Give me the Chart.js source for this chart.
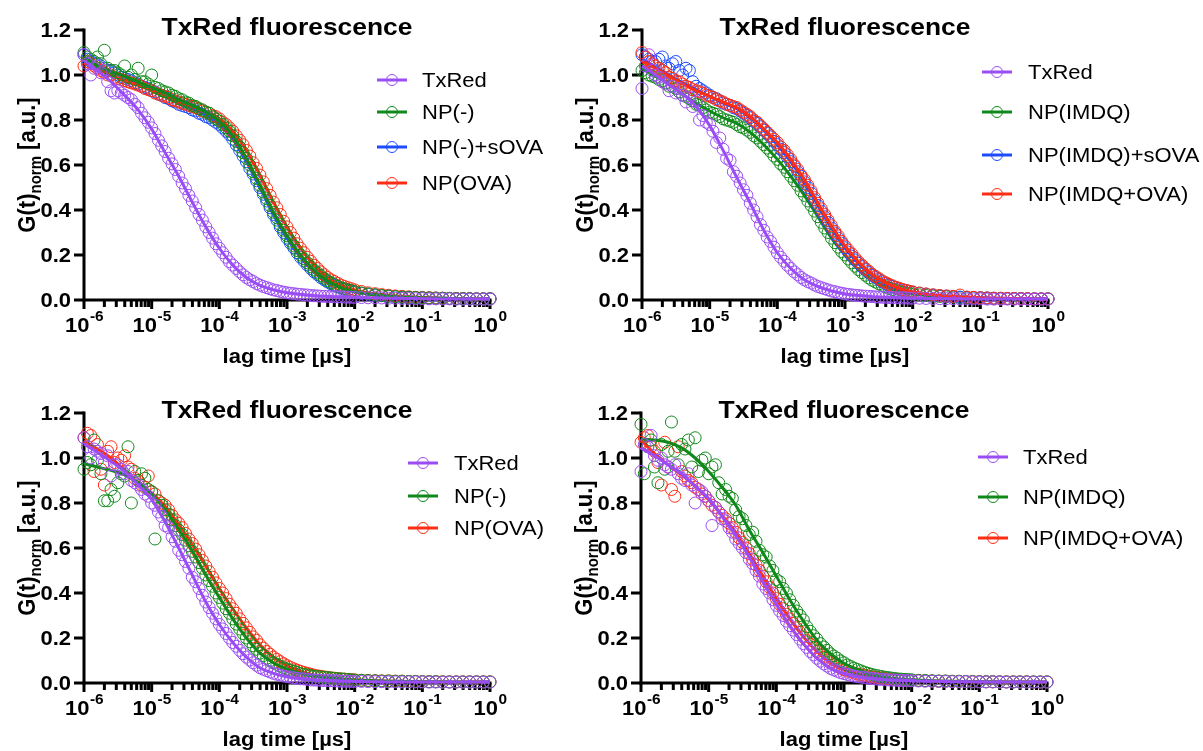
<!DOCTYPE html>
<html>
<head>
<meta charset="utf-8">
<title>TxRed fluorescence</title>
<script src="https://cdn.jsdelivr.net/npm/chart.js@4.4.1/dist/chart.umd.min.js"></script>
<style>
  html, body { margin: 0; padding: 0; background: #fff; overflow: hidden; }
  body { width: 1203px; height: 751px; position: relative; }
  canvas { position: absolute; }
</style>
</head>
<body>
<canvas id="panel1" width="645" height="375" style="left:0px;top:0px"></canvas>
<canvas id="panel2" width="645" height="375" style="left:558px;top:0px"></canvas>
<canvas id="panel3" width="645" height="375" style="left:0px;top:383px"></canvas>
<canvas id="panel4" width="645" height="375" style="left:557px;top:383px"></canvas>
<script>
// lag times of the measured points (20 per decade up to 1e-2, then 10 per decade)
const lagTime = [
  1e-6, 1.12e-6, 1.26e-6, 1.41e-6, 1.58e-6, 1.78e-6, 2e-6, 2.24e-6, 2.51e-6, 2.82e-6,
  3.16e-6, 3.55e-6, 3.98e-6, 4.47e-6, 5.01e-6, 5.62e-6, 6.31e-6, 7.08e-6, 7.94e-6, 8.91e-6,
  1e-5, 1.12e-5, 1.26e-5, 1.41e-5, 1.58e-5, 1.78e-5, 2e-5, 2.24e-5, 2.51e-5, 2.82e-5,
  3.16e-5, 3.55e-5, 3.98e-5, 4.47e-5, 5.01e-5, 5.62e-5, 6.31e-5, 7.08e-5, 7.94e-5, 8.91e-5,
  1e-4, 1.12e-4, 1.26e-4, 1.41e-4, 1.58e-4, 1.78e-4, 2e-4, 2.24e-4, 2.51e-4, 2.82e-4,
  3.16e-4, 3.55e-4, 3.98e-4, 4.47e-4, 5.01e-4, 5.62e-4, 6.31e-4, 7.08e-4, 7.94e-4, 8.91e-4,
  1e-3, 1.12e-3, 1.26e-3, 1.41e-3, 1.58e-3, 1.78e-3, 2e-3, 2.24e-3, 2.51e-3, 2.82e-3,
  3.16e-3, 3.55e-3, 3.98e-3, 4.47e-3, 5.01e-3, 5.62e-3, 6.31e-3, 7.08e-3, 7.94e-3, 8.91e-3,
  1e-2, 1.26e-2, 1.58e-2, 2e-2, 2.51e-2, 3.16e-2, 3.98e-2, 5.01e-2, 6.31e-2, 7.94e-2,
  0.1, 0.126, 0.158, 0.2, 0.251, 0.316, 0.398, 0.501, 0.631, 0.794,
  1
];
// lag times of the fitted curves (5 per decade)
const fitTime = [
  1e-6, 1.58e-6, 2.51e-6, 3.98e-6, 6.31e-6,
  1e-5, 1.58e-5, 2.51e-5, 3.98e-5, 6.31e-5,
  1e-4, 1.58e-4, 2.51e-4, 3.98e-4, 6.31e-4,
  1e-3, 1.58e-3, 2.51e-3, 3.98e-3, 6.31e-3,
  1e-2, 1.58e-2, 2.51e-2, 3.98e-2, 6.31e-2,
  0.1, 0.158, 0.251, 0.398, 0.631,
  1
];

// axis ticks
const yTickValues = [0, 0.2, 0.4, 0.6, 0.8, 1.0, 1.2];
const yTickLabels = ['0.0', '0.2', '0.4', '0.6', '0.8', '1.0', '1.2'];
const xTickValues = [1e-6, 1e-5, 1e-4, 1e-3, 1e-2, 1e-1, 1];
const xTickPowers = ['-6', '-5', '-4', '-3', '-2', '-1', '0'];

const chartTitle = 'TxRed fluorescence';
const xTitle = 'lag time [µs]';
const yTitleParts = ['G(t)', 'norm', ' [a.u.]'];

// ---- top left: TxRed, NP(-), NP(-)+sOVA, NP(OVA)
const p1TxRed = [
  1.09, 1.05, 1.00, 1.03, 1.04, 1.01, 1.02, 0.97, 0.93, 0.92, 0.93, 0.92, 0.91, 0.90, 0.89, 0.87, 0.855, 0.83, 0.81, 0.79,
  0.765, 0.74, 0.71, 0.685, 0.66, 0.63, 0.605, 0.58, 0.55, 0.52, 0.495, 0.465, 0.44, 0.41, 0.38, 0.355, 0.325, 0.30, 0.275, 0.25,
  0.23, 0.21, 0.19, 0.17, 0.155, 0.14, 0.125, 0.112, 0.10, 0.09, 0.082, 0.073, 0.066, 0.06, 0.055, 0.05, 0.045, 0.042, 0.038, 0.035,
  0.032, 0.03, 0.028, 0.026, 0.025, 0.023, 0.022, 0.02, 0.019, 0.018, 0.017, 0.016, 0.016, 0.015, 0.015, 0.014, 0.014, 0.013, 0.013, 0.012,
  0.012, 0.011, 0.010, 0.010, 0.009, 0.008, 0.008, 0.007, 0.007, 0.006, 0.006, 0.005, 0.005, 0.005, 0.005, 0.004, 0.004, 0.004, 0.004, 0.004, 0.004
];
const p1TxRedFit = [1.065, 1.02, 0.97, 0.91, 0.845, 0.76, 0.655, 0.55, 0.435, 0.325, 0.23, 0.155, 0.10, 0.065, 0.045, 0.032, 0.025, 0.019, 0.016, 0.014, 0.012, 0.010, 0.009, 0.008, 0.007, 0.006, 0.005, 0.005, 0.004, 0.004, 0.004];
const p1Np = [
  1.10, 1.08, 1.07, 1.06, 1.08, 1.05, 1.11, 1.03, 1.02, 1.02, 1.01, 1.00, 1.04, 0.99, 1.00, 0.98, 1.03, 0.97, 0.97, 0.96,
  1.00, 0.945, 0.94, 0.93, 0.925, 0.92, 0.91, 0.905, 0.895, 0.89, 0.88, 0.875, 0.865, 0.86, 0.85, 0.845, 0.835, 0.83, 0.815, 0.805,
  0.795, 0.78, 0.765, 0.75, 0.73, 0.705, 0.68, 0.655, 0.63, 0.60, 0.57, 0.54, 0.51, 0.48, 0.45, 0.42, 0.39, 0.365, 0.335, 0.31,
  0.285, 0.262, 0.24, 0.22, 0.20, 0.183, 0.165, 0.148, 0.133, 0.12, 0.108, 0.096, 0.085, 0.077, 0.069, 0.061, 0.054, 0.05, 0.045, 0.041,
  0.037, 0.031, 0.027, 0.023, 0.020, 0.017, 0.015, 0.013, 0.012, 0.011, 0.010, 0.009, 0.008, 0.008, 0.007, 0.006, 0.006, 0.006, 0.005, 0.005, 0.005
];
const p1NpFit = [1.08, 1.04, 1.015, 0.995, 0.97, 0.945, 0.92, 0.89, 0.865, 0.835, 0.795, 0.73, 0.63, 0.51, 0.39, 0.285, 0.2, 0.133, 0.085, 0.054, 0.037, 0.027, 0.02, 0.015, 0.012, 0.01, 0.008, 0.007, 0.006, 0.005, 0.005];
const p1NpSova = [
  1.09, 1.07, 1.06, 1.05, 1.05, 1.04, 1.03, 1.02, 1.02, 1.01, 1.00, 0.99, 0.985, 0.98, 0.975, 0.965, 0.96, 0.95, 0.945, 0.94,
  0.93, 0.925, 0.915, 0.91, 0.90, 0.895, 0.885, 0.88, 0.87, 0.865, 0.86, 0.855, 0.845, 0.84, 0.83, 0.825, 0.815, 0.81, 0.80, 0.79,
  0.78, 0.765, 0.75, 0.735, 0.715, 0.69, 0.665, 0.64, 0.615, 0.585, 0.56, 0.53, 0.50, 0.47, 0.44, 0.41, 0.38, 0.355, 0.325, 0.30,
  0.275, 0.253, 0.232, 0.21, 0.19, 0.173, 0.156, 0.14, 0.125, 0.113, 0.10, 0.09, 0.08, 0.072, 0.065, 0.059, 0.053, 0.048, 0.044, 0.04,
  0.036, 0.030, 0.026, 0.022, 0.019, 0.017, 0.015, 0.013, 0.012, 0.011, 0.010, 0.009, 0.008, 0.007, 0.007, 0.006, 0.006, 0.005, 0.005, 0.005, 0.006
];
const p1NpSovaFit = [1.08, 1.045, 1.015, 0.99, 0.96, 0.935, 0.905, 0.875, 0.85, 0.82, 0.78, 0.715, 0.615, 0.5, 0.38, 0.275, 0.19, 0.125, 0.08, 0.053, 0.036, 0.026, 0.019, 0.015, 0.012, 0.01, 0.008, 0.007, 0.006, 0.005, 0.005];
const p1NpOva = [
  1.04, 1.06, 1.05, 1.04, 1.03, 1.02, 1.01, 1.00, 1.00, 0.99, 0.985, 0.98, 0.975, 0.97, 0.965, 0.96, 0.955, 0.95, 0.94, 0.935,
  0.93, 0.92, 0.915, 0.91, 0.905, 0.90, 0.89, 0.885, 0.88, 0.875, 0.87, 0.865, 0.86, 0.855, 0.85, 0.84, 0.835, 0.83, 0.82, 0.815,
  0.805, 0.79, 0.78, 0.765, 0.75, 0.73, 0.71, 0.69, 0.665, 0.64, 0.61, 0.585, 0.555, 0.525, 0.495, 0.465, 0.435, 0.41, 0.38, 0.35,
  0.325, 0.30, 0.275, 0.25, 0.23, 0.21, 0.19, 0.172, 0.155, 0.14, 0.125, 0.112, 0.10, 0.09, 0.082, 0.074, 0.066, 0.06, 0.055, 0.05,
  0.045, 0.038, 0.032, 0.028, 0.024, 0.021, 0.018, 0.016, 0.014, 0.012, 0.011, 0.010, 0.009, 0.008, 0.007, 0.007, 0.006, 0.006, 0.005, 0.005, 0.005
];
const p1NpOvaFit = [1.055, 1.03, 1.0, 0.975, 0.955, 0.93, 0.905, 0.88, 0.86, 0.835, 0.805, 0.75, 0.665, 0.555, 0.435, 0.325, 0.23, 0.155, 0.1, 0.066, 0.045, 0.032, 0.024, 0.018, 0.014, 0.011, 0.009, 0.007, 0.006, 0.005, 0.005];

// ---- top right: TxRed, NP(IMDQ), NP(IMDQ)+sOVA, NP(IMDQ+OVA)
const p2TxRed = [
  0.94, 1.04, 1.09, 1.02, 1.00, 0.99, 0.97, 0.96, 0.93, 0.95, 0.92, 0.94, 0.91, 0.88, 0.90, 0.86, 0.88, 0.80, 0.82, 0.79,
  0.78, 0.75, 0.70, 0.72, 0.67, 0.63, 0.62, 0.57, 0.55, 0.52, 0.49, 0.465, 0.43, 0.40, 0.37, 0.335, 0.31, 0.28, 0.26, 0.235,
  0.21, 0.19, 0.172, 0.155, 0.14, 0.125, 0.113, 0.10, 0.09, 0.082, 0.075, 0.067, 0.06, 0.055, 0.05, 0.045, 0.04, 0.037, 0.033, 0.03,
  0.027, 0.025, 0.023, 0.021, 0.02, 0.018, 0.017, 0.016, 0.015, 0.014, 0.013, 0.012, 0.012, 0.011, 0.011, 0.010, 0.010, 0.009, 0.009, 0.008,
  0.008, 0.008, 0.007, 0.007, 0.006, 0.006, 0.006, 0.005, 0.005, 0.005, 0.005, 0.004, 0.004, 0.004, 0.004, 0.004, 0.004, 0.004, 0.004, 0.004, 0.004
];
const p2TxRedFit = [1.04, 1.0, 0.955, 0.915, 0.86, 0.775, 0.665, 0.545, 0.43, 0.31, 0.21, 0.14, 0.09, 0.06, 0.04, 0.027, 0.02, 0.015, 0.012, 0.01, 0.008, 0.007, 0.006, 0.006, 0.005, 0.005, 0.004, 0.004, 0.004, 0.004, 0.004];
const p2Np = [
  1.02, 1.01, 1.00, 0.995, 0.99, 0.98, 0.975, 0.965, 0.95, 0.95, 0.94, 0.925, 0.91, 0.905, 0.895, 0.885, 0.87, 0.865, 0.855, 0.845,
  0.835, 0.83, 0.825, 0.815, 0.805, 0.80, 0.795, 0.79, 0.78, 0.77, 0.765, 0.755, 0.745, 0.73, 0.72, 0.705, 0.69, 0.675, 0.66, 0.64,
  0.625, 0.605, 0.59, 0.57, 0.55, 0.53, 0.51, 0.485, 0.465, 0.44, 0.42, 0.395, 0.37, 0.345, 0.32, 0.30, 0.275, 0.255, 0.235, 0.215,
  0.20, 0.182, 0.165, 0.15, 0.135, 0.122, 0.11, 0.098, 0.088, 0.08, 0.072, 0.065, 0.058, 0.052, 0.047, 0.042, 0.038, 0.035, 0.032, 0.029,
  0.027, 0.023, 0.020, 0.018, 0.016, 0.014, 0.013, 0.011, 0.010, 0.010, 0.009, 0.008, 0.007, 0.007, 0.006, 0.006, 0.006, 0.005, 0.005, 0.005, 0.005
];
const p2NpFit = [1.03, 0.995, 0.96, 0.915, 0.875, 0.84, 0.81, 0.785, 0.745, 0.69, 0.625, 0.55, 0.465, 0.37, 0.275, 0.2, 0.135, 0.088, 0.058, 0.038, 0.027, 0.02, 0.016, 0.013, 0.01, 0.009, 0.007, 0.006, 0.006, 0.005, 0.005];
const p2NpSova = [
  1.09, 1.08, 1.07, 1.06, 1.06, 1.07, 1.08, 1.04, 1.03, 1.05, 1.06, 1.02, 1.00, 1.03, 1.02, 0.97, 0.95, 0.94, 0.93, 0.92,
  0.91, 0.90, 0.895, 0.885, 0.875, 0.87, 0.865, 0.855, 0.85, 0.84, 0.83, 0.82, 0.81, 0.795, 0.785, 0.77, 0.755, 0.74, 0.725, 0.705,
  0.69, 0.67, 0.655, 0.635, 0.615, 0.595, 0.57, 0.55, 0.525, 0.50, 0.475, 0.445, 0.42, 0.395, 0.37, 0.345, 0.32, 0.298, 0.275, 0.253,
  0.232, 0.213, 0.195, 0.178, 0.163, 0.148, 0.135, 0.122, 0.11, 0.10, 0.09, 0.081, 0.073, 0.066, 0.06, 0.055, 0.05, 0.045, 0.042, 0.038,
  0.035, 0.030, 0.026, 0.022, 0.019, 0.017, 0.015, 0.013, 0.012, 0.011, 0.010, 0.009, 0.008, 0.007, 0.007, 0.006, 0.006, 0.005, 0.005, 0.005, 0.005
];
const p2NpSovaFit = [1.07, 1.035, 1.0, 0.965, 0.935, 0.905, 0.875, 0.85, 0.81, 0.755, 0.69, 0.615, 0.525, 0.42, 0.32, 0.232, 0.163, 0.11, 0.073, 0.05, 0.035, 0.026, 0.019, 0.015, 0.012, 0.01, 0.008, 0.007, 0.006, 0.005, 0.005];
const p2NpOva = [
  1.10, 1.08, 1.06, 1.05, 1.04, 1.03, 1.02, 1.01, 0.99, 0.985, 0.975, 0.97, 0.96, 0.95, 0.945, 0.935, 0.93, 0.925, 0.92, 0.91,
  0.905, 0.90, 0.89, 0.885, 0.88, 0.87, 0.865, 0.86, 0.855, 0.845, 0.835, 0.825, 0.815, 0.80, 0.79, 0.775, 0.76, 0.745, 0.73, 0.715,
  0.70, 0.68, 0.665, 0.645, 0.625, 0.60, 0.58, 0.555, 0.535, 0.51, 0.485, 0.455, 0.43, 0.405, 0.38, 0.355, 0.33, 0.305, 0.285, 0.26,
  0.24, 0.222, 0.205, 0.187, 0.17, 0.155, 0.14, 0.128, 0.115, 0.105, 0.095, 0.085, 0.077, 0.07, 0.063, 0.057, 0.052, 0.047, 0.043, 0.039,
  0.036, 0.031, 0.027, 0.023, 0.020, 0.018, 0.016, 0.022, 0.013, 0.012, 0.010, 0.009, 0.008, 0.008, 0.007, 0.007, 0.006, 0.006, 0.005, 0.005, 0.005
];
const p2NpOvaFit = [1.06, 1.03, 0.995, 0.96, 0.93, 0.905, 0.88, 0.855, 0.815, 0.76, 0.70, 0.625, 0.535, 0.43, 0.33, 0.24, 0.17, 0.115, 0.077, 0.052, 0.036, 0.027, 0.02, 0.016, 0.013, 0.01, 0.008, 0.007, 0.006, 0.005, 0.005];

// ---- bottom left: TxRed, NP(-), NP(OVA)
const p3TxRed = [
  1.09, 1.05, 1.00, 1.04, 1.03, 1.02, 0.98, 1.01, 0.92, 0.97, 0.97, 0.95, 0.93, 0.94, 0.90, 0.89, 0.88, 0.86, 0.84, 0.83,
  0.80, 0.79, 0.76, 0.74, 0.70, 0.69, 0.65, 0.63, 0.59, 0.57, 0.54, 0.51, 0.47, 0.45, 0.42, 0.39, 0.36, 0.335, 0.31, 0.285,
  0.26, 0.24, 0.22, 0.20, 0.18, 0.163, 0.145, 0.13, 0.115, 0.102, 0.09, 0.079, 0.068, 0.061, 0.055, 0.049, 0.043, 0.039, 0.035, 0.031,
  0.028, 0.026, 0.023, 0.021, 0.019, 0.018, 0.016, 0.014, 0.013, 0.013, 0.012, 0.011, 0.011, 0.010, 0.010, 0.009, 0.008, 0.008, 0.008, 0.007,
  0.007, 0.007, 0.006, 0.006, 0.006, 0.005, 0.005, 0.005, 0.005, 0.005, 0.005, 0.004, 0.004, 0.004, 0.004, 0.004, 0.004, 0.004, 0.004, 0.004, 0.004
];
const p3TxRedFit = [1.062, 1.025, 0.985, 0.94, 0.88, 0.815, 0.715, 0.6, 0.48, 0.36, 0.26, 0.18, 0.115, 0.068, 0.043, 0.028, 0.019, 0.013, 0.011, 0.008, 0.007, 0.006, 0.005, 0.005, 0.005, 0.005, 0.004, 0.004, 0.004, 0.004, 0.004];
const p3Np = [
  0.95, 0.98, 0.97, 1.08, 0.99, 0.93, 0.81, 0.81, 0.86, 0.83, 0.89, 0.93, 0.92, 1.05, 0.80, 0.94, 0.90, 0.93, 0.91, 0.86,
  0.85, 0.64, 0.81, 0.79, 0.77, 0.75, 0.725, 0.70, 0.68, 0.66, 0.635, 0.61, 0.585, 0.56, 0.535, 0.51, 0.48, 0.455, 0.43, 0.40,
  0.38, 0.355, 0.33, 0.31, 0.285, 0.262, 0.24, 0.22, 0.20, 0.183, 0.165, 0.15, 0.133, 0.122, 0.11, 0.10, 0.09, 0.083, 0.075, 0.068,
  0.062, 0.057, 0.052, 0.047, 0.042, 0.039, 0.036, 0.033, 0.03, 0.028, 0.027, 0.025, 0.024, 0.022, 0.021, 0.019, 0.018, 0.017, 0.015, 0.014,
  0.013, 0.012, 0.011, 0.010, 0.009, 0.009, 0.008, 0.008, 0.007, 0.007, 0.006, 0.006, 0.006, 0.005, 0.005, 0.005, 0.005, 0.005, 0.005, 0.005, 0.005
];
const p3NpFit = [0.975, 0.96, 0.945, 0.925, 0.89, 0.84, 0.77, 0.683, 0.588, 0.48, 0.38, 0.285, 0.2, 0.133, 0.09, 0.062, 0.042, 0.03, 0.024, 0.018, 0.013, 0.011, 0.009, 0.008, 0.007, 0.006, 0.006, 0.005, 0.005, 0.005, 0.005];
const p3NpOva = [
  1.09, 1.11, 1.10, 0.94, 1.06, 0.95, 0.88, 1.03, 1.05, 0.98, 1.00, 0.99, 1.01, 0.96, 0.95, 0.91, 0.90, 0.88, 0.87, 0.92,
  0.85, 0.84, 0.81, 0.80, 0.79, 0.77, 0.745, 0.725, 0.71, 0.69, 0.665, 0.64, 0.62, 0.595, 0.57, 0.545, 0.52, 0.495, 0.47, 0.445,
  0.42, 0.40, 0.375, 0.35, 0.33, 0.31, 0.285, 0.265, 0.245, 0.225, 0.205, 0.19, 0.17, 0.155, 0.14, 0.128, 0.115, 0.105, 0.095, 0.086,
  0.077, 0.07, 0.063, 0.057, 0.052, 0.047, 0.043, 0.039, 0.035, 0.032, 0.03, 0.027, 0.025, 0.023, 0.021, 0.02, 0.018, 0.017, 0.016, 0.015,
  0.014, 0.012, 0.011, 0.010, 0.009, 0.009, 0.008, 0.008, 0.007, 0.007, 0.006, 0.006, 0.006, 0.005, 0.005, 0.005, 0.005, 0.005, 0.005, 0.005, 0.005
];
const p3NpOvaFit = [1.077, 1.04, 1.0, 0.945, 0.89, 0.845, 0.785, 0.705, 0.615, 0.52, 0.42, 0.33, 0.245, 0.17, 0.115, 0.077, 0.052, 0.035, 0.025, 0.018, 0.014, 0.011, 0.009, 0.008, 0.007, 0.006, 0.006, 0.005, 0.005, 0.005, 0.005];

// ---- bottom right: TxRed, NP(IMDQ), NP(IMDQ+OVA)
const p4TxRed = [
  0.94, 1.06, 1.05, 1.10, 1.01, 0.99, 1.00, 0.97, 0.96, 0.95, 0.97, 0.93, 0.91, 0.90, 0.93, 0.88, 0.80, 0.86, 0.85, 0.83,
  0.81, 0.70, 0.78, 0.76, 0.73, 0.72, 0.69, 0.67, 0.64, 0.62, 0.60, 0.58, 0.55, 0.53, 0.50, 0.475, 0.44, 0.42, 0.40, 0.37,
  0.345, 0.32, 0.30, 0.275, 0.255, 0.235, 0.215, 0.195, 0.175, 0.158, 0.14, 0.125, 0.11, 0.097, 0.085, 0.075, 0.065, 0.058, 0.052, 0.046,
  0.042, 0.038, 0.034, 0.031, 0.028, 0.026, 0.024, 0.022, 0.020, 0.019, 0.017, 0.016, 0.015, 0.014, 0.013, 0.013, 0.012, 0.011, 0.011, 0.010,
  0.010, 0.009, 0.008, 0.008, 0.007, 0.007, 0.006, 0.006, 0.006, 0.005, 0.005, 0.005, 0.005, 0.005, 0.004, 0.004, 0.004, 0.004, 0.004, 0.004, 0.004
];
const p4TxRedFit = [1.047, 1.01, 0.97, 0.93, 0.875, 0.82, 0.74, 0.655, 0.56, 0.45, 0.35, 0.255, 0.175, 0.11, 0.065, 0.042, 0.028, 0.02, 0.015, 0.012, 0.01, 0.008, 0.007, 0.006, 0.006, 0.005, 0.005, 0.005, 0.004, 0.004, 0.004];
const p4Np = [
  1.15, 0.93, 1.05, 1.08, 0.96, 0.89, 1.06, 0.95, 1.03, 1.16, 1.03, 0.97, 1.06, 1.04, 1.08, 0.96, 1.09, 0.94, 0.99, 1.00,
  0.93, 0.96, 0.97, 0.89, 0.84, 0.86, 0.83, 0.82, 0.77, 0.74, 0.73, 0.70, 0.66, 0.67, 0.63, 0.59, 0.57, 0.56, 0.52, 0.50,
  0.46, 0.45, 0.42, 0.40, 0.37, 0.345, 0.32, 0.30, 0.28, 0.25, 0.23, 0.21, 0.195, 0.175, 0.16, 0.145, 0.13, 0.12, 0.11, 0.098,
  0.09, 0.08, 0.073, 0.066, 0.06, 0.054, 0.048, 0.043, 0.039, 0.035, 0.032, 0.029, 0.026, 0.024, 0.022, 0.02, 0.018, 0.017, 0.016, 0.015,
  0.014, 0.012, 0.011, 0.010, 0.009, 0.009, 0.008, 0.008, 0.007, 0.007, 0.006, 0.006, 0.006, 0.005, 0.005, 0.005, 0.005, 0.005, 0.005, 0.005, 0.005
];
const p4NpFit = [1.085, 1.08, 1.07, 1.045, 1.0, 0.94, 0.87, 0.79, 0.68, 0.58, 0.475, 0.37, 0.275, 0.19, 0.13, 0.088, 0.06, 0.038, 0.026, 0.018, 0.014, 0.011, 0.009, 0.008, 0.007, 0.006, 0.006, 0.005, 0.005, 0.005, 0.005];
const p4NpOva = [
  1.07, 1.09, 1.10, 1.05, 1.03, 0.98, 0.88, 1.07, 0.96, 0.86, 0.83, 1.05, 0.94, 0.92, 0.90, 0.89, 0.87, 0.86, 0.84, 0.83,
  0.81, 0.79, 0.78, 0.76, 0.745, 0.73, 0.71, 0.69, 0.67, 0.645, 0.625, 0.60, 0.575, 0.55, 0.525, 0.50, 0.475, 0.45, 0.425, 0.40,
  0.375, 0.35, 0.33, 0.305, 0.285, 0.265, 0.245, 0.225, 0.205, 0.188, 0.172, 0.155, 0.14, 0.127, 0.114, 0.102, 0.09, 0.082, 0.074, 0.066,
  0.058, 0.053, 0.049, 0.044, 0.04, 0.037, 0.034, 0.031, 0.028, 0.026, 0.024, 0.022, 0.02, 0.019, 0.018, 0.016, 0.015, 0.014, 0.013, 0.012,
  0.012, 0.011, 0.010, 0.009, 0.008, 0.008, 0.007, 0.007, 0.006, 0.006, 0.006, 0.005, 0.005, 0.005, 0.005, 0.005, 0.005, 0.005, 0.004, 0.004, 0.005
];
const p4NpOvaFit = [1.08, 1.02, 0.97, 0.925, 0.875, 0.815, 0.745, 0.67, 0.575, 0.475, 0.375, 0.285, 0.205, 0.14, 0.09, 0.058, 0.04, 0.028, 0.02, 0.015, 0.012, 0.01, 0.008, 0.007, 0.006, 0.006, 0.005, 0.005, 0.005, 0.005, 0.005];

const colTxRed = '#9a4cf5';
const colGreen = '#11891a';
const colBlue = '#1d4cff';
const colRed = '#ff2d14';

const FONT = '"Liberation Sans", Arial, sans-serif';
const STRETCH = 1.1;   // the figure text is a bit wider than plain Arial

// series: label, points, fit, colour, draw order (lower = on top)
const panels = [
  { id: 'panel1', legend: { markerX: 392, textX: 422, rows: [80, 112, 147, 183] },
    series: [
      ['TxRed', p1TxRed, p1TxRedFit, colTxRed, 0],
      ['NP(-)', p1Np, p1NpFit, colGreen, 2],
      ['NP(-)+sOVA', p1NpSova, p1NpSovaFit, colBlue, 6],
      ['NP(OVA)', p1NpOva, p1NpOvaFit, colRed, 4]
    ] },
  { id: 'panel2', legend: { markerX: 439, textX: 470, rows: [72, 112, 155, 194] },
    series: [
      ['TxRed', p2TxRed, p2TxRedFit, colTxRed, 0],
      ['NP(IMDQ)', p2Np, p2NpFit, colGreen, 6],
      ['NP(IMDQ)+sOVA', p2NpSova, p2NpSovaFit, colBlue, 4],
      ['NP(IMDQ+OVA)', p2NpOva, p2NpOvaFit, colRed, 2]
    ] },
  { id: 'panel3', legend: { markerX: 423, textX: 454, rows: [80, 113, 145] },
    series: [
      ['TxRed', p3TxRed, p3TxRedFit, colTxRed, 0],
      ['NP(-)', p3Np, p3NpFit, colGreen, 2],
      ['NP(OVA)', p3NpOva, p3NpOvaFit, colRed, 4]
    ] },
  { id: 'panel4', legend: { markerX: 436, textX: 466, rows: [74, 114, 155] },
    series: [
      ['TxRed', p4TxRed, p4TxRedFit, colTxRed, 0],
      ['NP(IMDQ)', p4Np, p4NpFit, colGreen, 2],
      ['NP(IMDQ+OVA)', p4NpOva, p4NpOvaFit, colRed, 4]
    ] }
];

// text drawn slightly wider, returns the drawn width
function drawText(ctx, text, x, y, font, align) {
  ctx.save();
  ctx.font = font;
  const w = ctx.measureText(text).width * STRETCH;
  let x0 = x;
  if (align === 'center') x0 = x - w / 2;
  else if (align === 'right') x0 = x - w;
  ctx.translate(x0, y);
  ctx.scale(STRETCH, 1);
  ctx.textAlign = 'left';
  ctx.textBaseline = 'alphabetic';
  ctx.fillText(text, 0, 0);
  ctx.restore();
  return w;
}

function textWidth(ctx, text, font) {
  ctx.save();
  ctx.font = font;
  const w = ctx.measureText(text).width * STRETCH;
  ctx.restore();
  return w;
}

function line(ctx, x1, y1, x2, y2) {
  ctx.beginPath();
  ctx.moveTo(x1, y1);
  ctx.lineTo(x2, y2);
  ctx.stroke();
}

// GraphPad style axes, titles and legend
function makeDecor(panel) {
  return {
    id: 'decor',
    beforeDatasetsDraw(chart) {
      const ctx = chart.ctx;
      const area = chart.chartArea;
      const xs = chart.scales.x;
      const ys = chart.scales.y;
      ctx.save();
      ctx.strokeStyle = '#000';
      ctx.fillStyle = '#000';
      ctx.lineWidth = 3;

      // y axis
      const yTop = ys.getPixelForValue(yTickValues[yTickValues.length - 1]);
      line(ctx, area.left, yTop - 1.5, area.left, area.bottom + 1.5);
      yTickValues.forEach((v, i) => {
        const py = ys.getPixelForValue(v);
        line(ctx, area.left - 10, py, area.left, py);
        drawText(ctx, yTickLabels[i], area.left - 13, py + 7, 'bold 20px ' + FONT, 'right');
      });

      // x axis with decade and minor ticks
      const xEnd = xs.getPixelForValue(xTickValues[xTickValues.length - 1]);
      line(ctx, area.left - 1.5, area.bottom, xEnd + 1.5, area.bottom);
      const baseFont = 'bold 20px ' + FONT;
      const expFont = 'bold 14px ' + FONT;
      xTickValues.forEach((v, i) => {
        const px = xs.getPixelForValue(v);
        line(ctx, px, area.bottom, px, area.bottom + 9);
        if (i < xTickValues.length - 1) {
          for (let m = 2; m <= 9; m++) {
            const pm = xs.getPixelForValue(v * m);
            line(ctx, pm, area.bottom, pm, area.bottom + 7);
          }
        }
        const wBase = textWidth(ctx, '10', baseFont);
        const wExp = textWidth(ctx, xTickPowers[i], expFont);
        const x0 = px - (wBase + wExp) / 2;
        drawText(ctx, '10', x0, area.bottom + 32, baseFont, 'left');
        drawText(ctx, xTickPowers[i], x0 + wBase + 0.5, area.bottom + 21, expFont, 'left');
      });

      // titles
      const cx = (area.left + area.right) / 2;
      drawText(ctx, chartTitle, cx, area.top + 5, 'bold 24px ' + FONT, 'center');
      drawText(ctx, xTitle, cx, area.bottom + 63, 'bold 20px ' + FONT, 'center');

      // rotated y title with subscript
      const bigFont = 'bold 22px ' + FONT;
      const subFont = 'bold 15px ' + FONT;
      ctx.font = bigFont;
      const w0 = ctx.measureText(yTitleParts[0]).width;
      const w2 = ctx.measureText(yTitleParts[2]).width;
      ctx.font = subFont;
      const w1 = ctx.measureText(yTitleParts[1]).width;
      const total = w0 + w1 + w2;
      ctx.save();
      ctx.translate(35, (area.top + area.bottom) / 2);
      ctx.rotate(-Math.PI / 2);
      ctx.scale(1, STRETCH);
      ctx.textAlign = 'left';
      ctx.textBaseline = 'alphabetic';
      let tx = -total / 2;
      ctx.font = bigFont;
      ctx.fillText(yTitleParts[0], tx, 0);
      tx += w0;
      ctx.font = subFont;
      ctx.fillText(yTitleParts[1], tx, 5);
      tx += w1;
      ctx.font = bigFont;
      ctx.fillText(yTitleParts[2], tx, 0);
      ctx.restore();

      ctx.restore();
    },
    afterDatasetsDraw(chart) {
      const ctx = chart.ctx;
      const lg = panel.legend;
      ctx.save();
      panel.series.forEach((s, i) => {
        const y = lg.rows[i];
        ctx.strokeStyle = s[3];
        ctx.lineWidth = 3;
        line(ctx, lg.markerX - 15, y, lg.markerX + 15, y);
        ctx.lineWidth = 1;
        ctx.beginPath();
        ctx.arc(lg.markerX, y, 5.5, 0, Math.PI * 2);
        ctx.stroke();
        ctx.fillStyle = '#000';
        drawText(ctx, s[0], lg.textX, y + 7, '20px ' + FONT, 'left');
      });
      ctx.restore();
    }
  };
}

function pointSet(label, ys, color, order) {
  return {
    label: label,
    data: lagTime.map((t, i) => ({ x: t, y: ys[i] })),
    showLine: false,
    pointStyle: 'circle',
    pointRadius: 6,
    pointBorderWidth: 1,
    pointBorderColor: color,
    pointBackgroundColor: 'rgba(0,0,0,0)',
    borderColor: color,
    order: order + 1,
    clip: false
  };
}

function fitSet(label, ys, color, order) {
  return {
    label: label + ' fit',
    data: fitTime.map((t, i) => ({ x: t, y: ys[i] })),
    showLine: true,
    borderColor: color,
    borderWidth: 3,
    pointRadius: 0,
    cubicInterpolationMode: 'monotone',
    order: order,
    clip: false
  };
}

panels.forEach(panel => {
  const datasets = [];
  panel.series.forEach(s => {
    datasets.push(pointSet(s[0], s[1], s[3], s[4]));
    datasets.push(fitSet(s[0], s[2], s[3], s[4]));
  });
  new Chart(document.getElementById(panel.id), {
    type: 'scatter',
    data: { datasets: datasets },
    options: {
      responsive: false,
      animation: false,
      devicePixelRatio: 1,
      events: [],
      layout: { padding: { left: 84, right: 155, top: 30, bottom: 75 } },
      plugins: {
        legend: { display: false },
        tooltip: { enabled: false },
        title: { display: false }
      },
      scales: {
        x: { type: 'logarithmic', min: 1e-6, max: 1, display: false },
        y: { type: 'linear', min: 0, max: 1.2, display: false }
      }
    },
    plugins: [makeDecor(panel)]
  });
});
</script>
</body>
</html>
